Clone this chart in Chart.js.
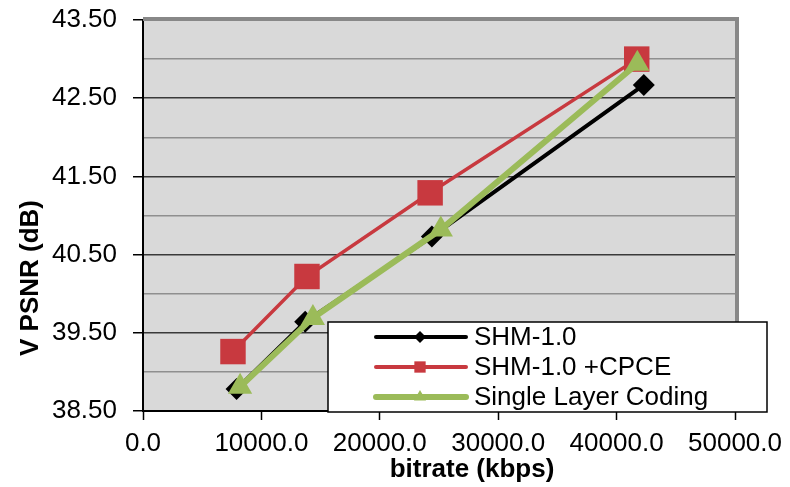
<!DOCTYPE html>
<html>
<head>
<meta charset="utf-8">
<script src="https://cdn.jsdelivr.net/npm/chart.js"></script>
<style>
  body { margin: 0; background: #fff; }
</style>
</head>
<body>
<canvas id="psnr-chart" width="790" height="487"></canvas>
<script>
// values (bitrate kbps, V PSNR dB)
var shmX = [7900, 13700, 24400, 42300];
var shmY = [38.78, 39.64, 40.73, 42.67];
var cpceX = [7600, 13850, 24250, 41700];
var cpceY = [39.26, 40.22, 41.29, 43.00];
var slcX = [8200, 14350, 25150, 41750];
var slcY = [38.81, 39.69, 40.82, 42.94];
var seriesNames = ['SHM-1.0', 'SHM-1.0 +CPCE', 'Single Layer Coding'];

function pts(xs, ys) {
  return xs.map(function (x, i) { return { x: x, y: ys[i] }; });
}
function isMajor(v) {
  return Math.abs(Math.abs(v % 1) - 0.5) < 1e-6;
}

var FONT = '"Liberation Sans", Arial, sans-serif';

var frame = {
  id: 'frame',
  beforeDraw: function (chart) {
    var a = chart.chartArea, ctx = chart.ctx;
    ctx.save();
    ctx.fillStyle = '#d9d9d9';
    ctx.fillRect(a.left, a.top, a.right - a.left, a.bottom - a.top);
    ctx.restore();
  },
  beforeDatasetsDraw: function (chart) {
    var a = chart.chartArea, ctx = chart.ctx;
    ctx.save();
    ctx.strokeStyle = '#888';
    ctx.lineWidth = 4;
    ctx.beginPath();
    ctx.moveTo(a.left, a.top - 1);
    ctx.lineTo(a.right + 2, a.top - 1);
    ctx.lineTo(a.right + 2, a.bottom);
    ctx.stroke();
    ctx.restore();
  },
  afterDraw: function (chart) {
    var ctx = chart.ctx;
    ctx.save();
    // axis titles
    ctx.fillStyle = '#000';
    ctx.font = 'bold 26px ' + FONT;
    ctx.textAlign = 'center';
    ctx.textBaseline = 'middle';
    ctx.fillText('bitrate (kbps)', 472, 470);
    ctx.translate(31, 278);
    ctx.rotate(-Math.PI / 2);
    ctx.fillText('V PSNR (dB)', 0, 0);
    ctx.restore();

    // legend box
    ctx.save();
    ctx.fillStyle = '#fff';
    ctx.fillRect(328, 322, 439, 90);
    ctx.strokeStyle = '#000';
    ctx.lineWidth = 1.5;
    ctx.strokeRect(328, 322, 439, 90);
    var rows = [337, 367, 397];
    var sizes = [6, 8, 7];
    chart.data.datasets.forEach(function (ds, i) {
      var y = rows[i];
      ctx.strokeStyle = ds.borderColor;
      ctx.lineWidth = i === 2 ? 6 : 4;
      ctx.lineCap = 'round';
      ctx.beginPath();
      ctx.moveTo(376, y);
      ctx.lineTo(466, y);
      ctx.stroke();
      ctx.fillStyle = ds.borderColor;
      Chart.helpers.drawPoint(ctx, { pointStyle: ds.pointStyle, radius: sizes[i], borderWidth: 0 }, 420, y);
      ctx.fillStyle = '#000';
      ctx.font = '26px ' + FONT;
      ctx.textAlign = 'left';
      ctx.textBaseline = 'middle';
      ctx.fillText(ds.label, 474, y + 1);
    });
    ctx.restore();
  }
};

new Chart(document.getElementById('psnr-chart'), {
  type: 'scatter',
  data: {
    datasets: [{
      label: seriesNames[0],
      data: pts(shmX, shmY),
      showLine: true,
      borderColor: '#000000',
      backgroundColor: '#000000',
      borderWidth: 4,
      pointStyle: 'rectRot',
      pointRadius: 11,
      pointBorderWidth: 0,
      order: 3
    }, {
      label: seriesNames[1],
      data: pts(cpceX, cpceY),
      showLine: true,
      borderColor: '#c8393f',
      backgroundColor: '#c8393f',
      borderWidth: 3.5,
      pointStyle: 'rect',
      pointRadius: 18,
      pointBorderWidth: 0,
      order: 2
    }, {
      label: seriesNames[2],
      data: pts(slcX, slcY),
      showLine: true,
      borderColor: '#9bbb59',
      backgroundColor: '#9bbb59',
      borderWidth: 6,
      pointStyle: 'triangle',
      pointRadius: 14,
      pointBorderWidth: 0,
      order: 1
    }]
  },
  options: {
    responsive: false,
    animation: false,
    layout: { padding: { top: 20, right: 55, left: 0, bottom: 0 } },
    plugins: { legend: { display: false }, tooltip: { enabled: false } },
    scales: {
      x: {
        type: 'linear',
        min: 0,
        max: 50000,
        afterFit: function (s) { s.height = 76; s.paddingLeft = 0; s.paddingRight = 0; },
        border: { color: '#000', width: 2 },
        grid: { drawOnChartArea: false, tickLength: 9, tickColor: '#000', tickWidth: 1.5 },
        ticks: {
          stepSize: 10000,
          padding: 8,
          color: '#000',
          font: { family: FONT, size: 26 },
          maxRotation: 0,
          callback: function (v) { return v.toFixed(1); }
        }
      },
      y: {
        min: 38.5,
        max: 43.5,
        afterFit: function (s) { s.width = 143; s.paddingTop = 0; s.paddingBottom = 0; },
        border: { color: '#000', width: 2 },
        grid: {
          tickLength: 10,
          lineWidth: 1.5,
          tickWidth: 1.5,
          color: function (c) { return isMajor(c.tick.value) ? '#3a3a3a' : '#8f8f8f'; },
          tickColor: function (c) { return isMajor(c.tick.value) ? '#000' : 'rgba(0,0,0,0)'; }
        },
        ticks: {
          stepSize: 0.5,
          padding: 16,
          color: '#000',
          font: { family: FONT, size: 26 },
          callback: function (v) { return isMajor(v) ? v.toFixed(2) : ''; }
        }
      }
    }
  },
  plugins: [frame]
});
</script>
</body>
</html>
